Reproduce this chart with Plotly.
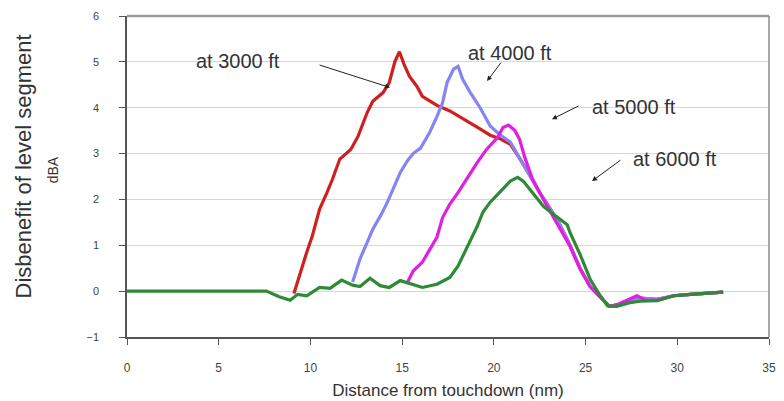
import plotly.graph_objects as go

# ---- data ----
x_3000 = [9.1, 9.5, 9.8, 10.1, 10.5, 10.9, 11.2, 11.6, 12.2, 12.6, 13.1, 13.4, 13.96, 14.3, 14.6, 14.85,
          15.1, 15.4, 15.8, 16.1, 16.9, 17.6, 18.4, 19.2, 19.8, 20.3, 20.9, 21.4, 22.0, 22.5, 23.1, 23.6,
          24.15, 24.7, 25.25, 25.8, 26.3, 26.8, 27.4, 28.0, 28.9, 29.8, 30.7, 31.6, 32.5]
y_3000 = [-0.05, 0.5, 0.85, 1.2, 1.79, 2.15, 2.44, 2.88, 3.09, 3.38, 3.9, 4.14, 4.33, 4.55, 5.0, 5.22,
          4.95, 4.68, 4.47, 4.25, 4.05, 3.93, 3.75, 3.55, 3.4, 3.33, 3.2, 2.9, 2.5, 2.15, 1.78, 1.45,
          1.0, 0.5, 0.1, -0.13, -0.33, -0.3, -0.22, -0.15, -0.18, -0.1, -0.07, -0.05, -0.02]

x_4000 = [12.3, 12.7, 13.1, 13.4, 13.8, 14.2, 14.5, 14.9, 15.3, 15.6, 16.0, 16.5, 16.9, 17.2, 17.45, 17.8,
          18.05, 18.3, 18.7, 19.25, 19.8, 20.3, 20.9, 21.4, 22.0, 22.5, 23.1, 23.6, 24.15, 24.7, 25.25,
          25.8, 26.3, 26.8, 27.4, 28.0, 28.9, 29.8, 30.7, 31.6, 32.5]
y_4000 = [0.2, 0.7, 1.07, 1.35, 1.63, 1.94, 2.22, 2.59, 2.85, 3.0, 3.12, 3.46, 3.81, 4.1, 4.55, 4.84,
          4.9, 4.62, 4.34, 4.0, 3.6, 3.42, 3.25, 2.9, 2.5, 2.15, 1.78, 1.45, 1.0, 0.5, 0.1,
          -0.13, -0.33, -0.3, -0.22, -0.15, -0.18, -0.1, -0.07, -0.05, -0.02]

x_5000 = [15.3, 15.6, 16.1, 16.5, 16.9, 17.2, 17.6, 18.0, 18.5, 19.1, 19.6, 20.2, 20.5, 20.8, 21.15,
          21.4, 21.7, 22.1, 22.7, 23.4, 24.15, 24.7, 25.25, 25.8, 26.3, 26.8, 27.4, 27.8, 28.3, 28.9,
          29.8, 30.7, 31.6, 32.5]
y_5000 = [0.2, 0.44, 0.63, 0.9, 1.18, 1.6, 1.9, 2.12, 2.44, 2.81, 3.09, 3.35, 3.57, 3.62, 3.5,
          3.31, 2.9, 2.45, 2.0, 1.5, 0.98, 0.48, 0.1, -0.13, -0.33, -0.28, -0.18, -0.1, -0.2, -0.2,
          -0.1, -0.07, -0.05, -0.02]

x_6000 = [0, 7.6, 8.3, 8.9, 9.3, 9.8, 10.5, 11.07, 11.7, 12.3, 12.7, 13.25, 13.8, 14.3, 14.9, 15.4,
          16.1, 16.9, 17.6, 18.05, 18.5, 19.1, 19.4, 19.8, 20.3, 20.9, 21.3, 21.6, 22.1, 22.7, 23.4,
          24.0, 24.15, 24.7, 25.25, 25.8, 26.2, 26.7, 27.4, 28.0, 28.9, 29.8, 30.7, 31.6, 32.5]
y_6000 = [0, 0, -0.12, -0.2, -0.07, -0.1, 0.08, 0.06, 0.24, 0.13, 0.1, 0.28, 0.12, 0.08, 0.23, 0.17,
          0.08, 0.15, 0.3, 0.55, 0.92, 1.42, 1.72, 1.94, 2.15, 2.4, 2.48, 2.4, 2.15, 1.85, 1.63,
          1.45, 1.28, 0.8, 0.26, -0.1, -0.32, -0.33, -0.25, -0.22, -0.21, -0.1, -0.07, -0.05, -0.02]

x_ticks = [0, 5, 10, 15, 20, 25, 30, 35]
y_ticks = [-1, 0, 1, 2, 3, 4, 5, 6]

FONT = "Liberation Sans, Arial, sans-serif"

fig = go.Figure()
series = [
    (x_3000, y_3000, "#d11f1f", "at 3000 ft"),
    (x_4000, y_4000, "#8585f2", "at 4000 ft"),
    (x_5000, y_5000, "#e01fe0", "at 5000 ft"),
    (x_6000, y_6000, "#2e8a35", "at 6000 ft"),
]
for xs, ys, col, name in series:
    fig.add_trace(go.Scatter(x=xs, y=ys, mode="lines", name=name,
                             line=dict(color=col, width=3.2), showlegend=False))

# page body has an 8px margin, so the figure is sized to 776x393
fig.update_layout(
    width=776, height=393,
    margin=dict(l=119, r=15, t=8, b=64),
    paper_bgcolor="white", plot_bgcolor="white",
    font=dict(family=FONT, color="#333"),
    xaxis=dict(range=[0, 35], tickvals=x_ticks, showgrid=False, zeroline=False,
               automargin=False,
               showline=True, linecolor="#555", linewidth=1.5,
               ticks="outside", ticklen=6, tickcolor="#555",
               ticklabelstandoff=13,
               tickfont=dict(size=12, color="#444"),
               title=dict(text="Distance from touchdown (nm)",
                          font=dict(size=17, color="#333"), standoff=10)),
    yaxis=dict(range=[-1, 6], tickvals=y_ticks, showgrid=True, gridcolor="#d6d6d6",
               gridwidth=1, zeroline=False, automargin=False,
               showline=True, linecolor="#555", linewidth=1.5,
               ticks="outside", ticklen=6, tickcolor="#555",
               ticklabelstandoff=18,
               tickfont=dict(size=11, color="#444")),
)

# border lines (top and right)
fig.add_shape(type="line", xref="paper", yref="paper", x0=0, x1=1, y0=1, y1=1,
              line=dict(color="#9a9a9a", width=2.5))
fig.add_shape(type="line", xref="paper", yref="paper", x0=1, x1=1, y0=0, y1=1,
              line=dict(color="#8a8a8a", width=1.5))

# y-axis titles
fig.add_annotation(text="Disbenefit of level segment", xref="paper", yref="paper",
                   x=-0.161, y=0.53, textangle=-90, showarrow=False,
                   xanchor="center", yanchor="middle", borderpad=0,
                   font=dict(size=22, color="#333"))
fig.add_annotation(text="dBA", xref="paper", yref="paper",
                   x=-0.115, y=0.52, textangle=-90, showarrow=False,
                   xanchor="center", yanchor="middle",
                   font=dict(size=14, color="#333"))

# labels with arrows
labels = [
    ("at 3000 ft", 6.05, 5.01, 14.34, 4.44, -72, -23),
    ("at 4000 ft", 20.88, 5.19, 19.63, 4.58, 15, -20),
    ("at 5000 ft", 27.65, 4.01, 23.17, 3.75, 28, -14),
    ("at 6000 ft", 29.88, 2.88, 25.35, 2.40, 30, -22),
]
for txt, tx, ty, hx, hy, ax, ay in labels:
    fig.add_annotation(text=txt, x=tx, y=ty, showarrow=False,
                       font=dict(size=20, color="#333"))
    fig.add_annotation(text="", x=hx, y=hy, ax=ax, ay=ay, showarrow=True,
                       arrowhead=2, arrowsize=1, arrowwidth=1, arrowcolor="#222")

fig.add_annotation(text="0dB=pure CDA", x=-0.2, y=1.5, xanchor="left", showarrow=False,
                   font=dict(size=18, color="#333"))

fig.write_html("out.html")
